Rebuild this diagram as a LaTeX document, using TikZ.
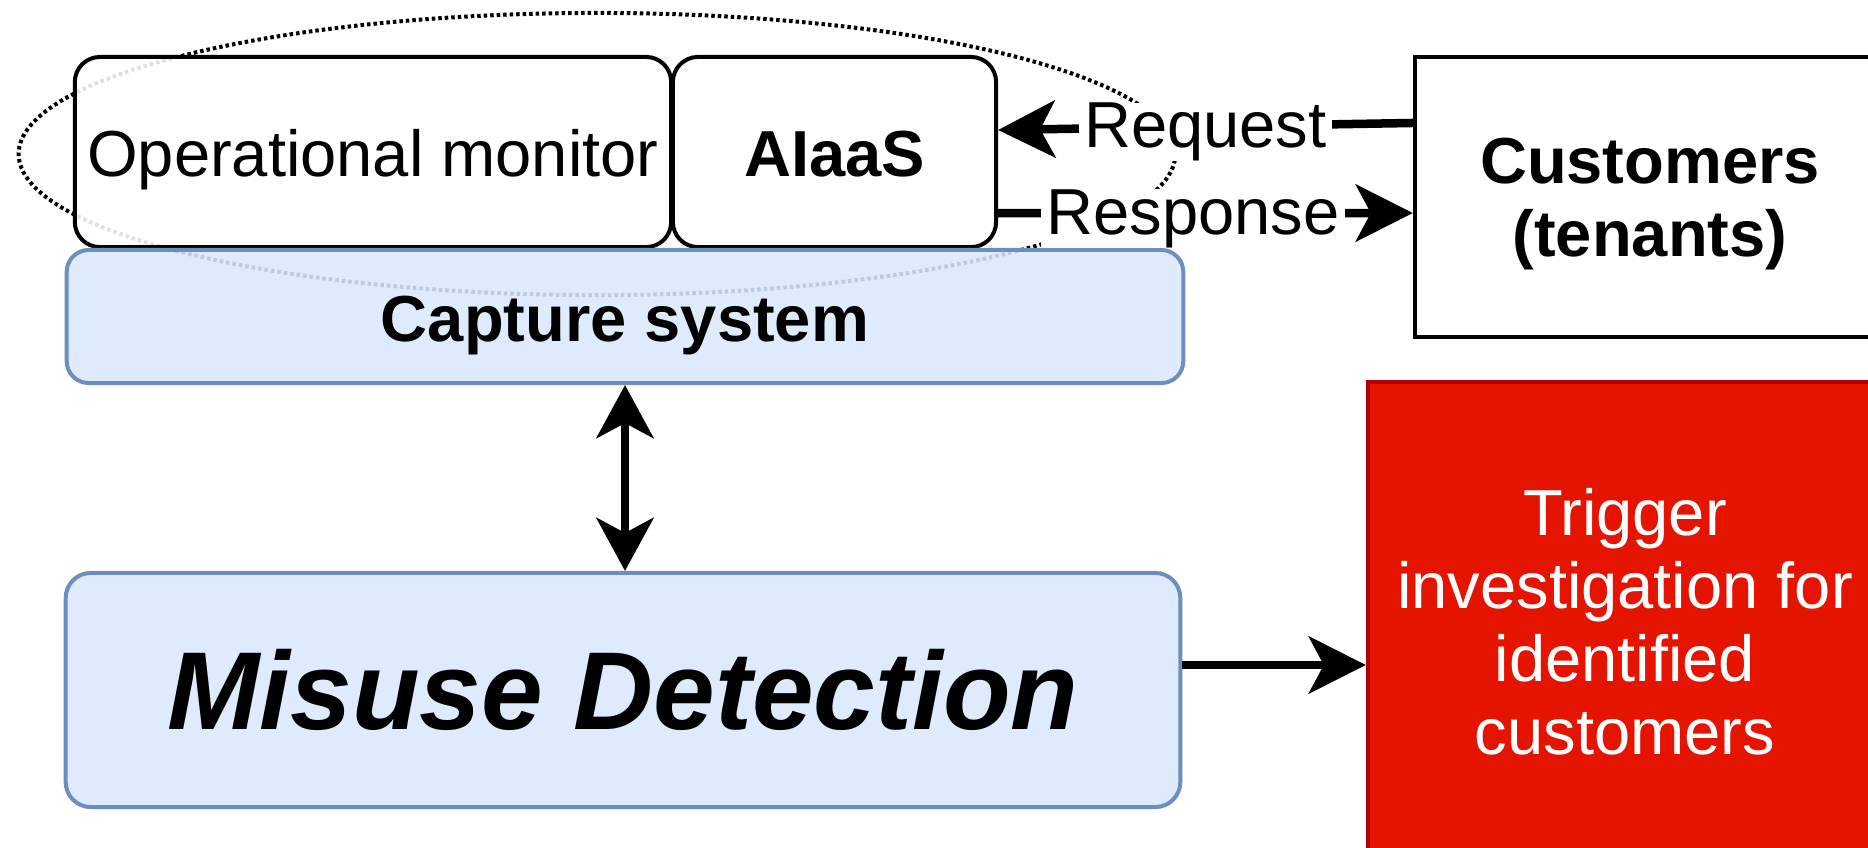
\documentclass[tikz,border=0pt]{standalone}
\usepackage{fontspec}
\setmainfont{Liberation Sans}
\usetikzlibrary{arrows.meta}
\definecolor{boxblue}{HTML}{DAE8FC}
\definecolor{lineblue}{HTML}{6C8EBF}
\definecolor{alertred}{HTML}{E51400}
\definecolor{alertline}{HTML}{B20000}
\newcommand{\boxfont}{\fontsize{18.5}{20.8}\selectfont}
\tikzset{
  lowtext/.style={text height=18pt, text depth=4pt},
  part/.style={draw, fill=white, line width=0.04cm, rounded corners=0.25cm, inner sep=0pt,
    fill opacity=0.88, text opacity=1, font=\boxfont, lowtext},
  layer/.style={draw=lineblue, fill=boxblue, line width=0.04cm, rounded corners=0.22cm, inner sep=0pt,
    fill opacity=0.88, text opacity=1},
  flow/.style={line width=0.085cm, -{Stealth[length=5.7mm, width=5.7mm, inset=1.5mm]}},
  edgetext/.style={fill=white, inner xsep=1.5pt, inner ysep=0pt, font=\boxfont, anchor=base, yshift=-6pt},
}

\begin{document}
\begin{tikzpicture}[x=0.01cm, y=-0.01cm]
            \useasboundingbox (0,0) rectangle (1868,847);
            \clip (0,0) rectangle (1868,847);

            \draw[line width=0.04cm, dash pattern=on 0.035cm off 0.03cm] (597,154) ellipse [x radius=5.78cm, y radius=1.41cm];

            \node[part, minimum width=5.96cm, minimum height=1.9cm] (opmon) at (373,152) {Operational monitor};
            \node[part, minimum width=3.23cm, minimum height=1.9cm, font=\boxfont\bfseries] (aiaas) at (834.5,152) {AIaaS};
            \node[layer, lowtext, minimum width=11.16cm, minimum height=1.33cm, font=\boxfont\bfseries] (capture) at (625,316.5) {Capture system};
            \node[layer, rounded corners=0.25cm, minimum width=11.14cm, minimum height=2.34cm,
                  font=\fontsize{31.5}{36}\selectfont\bfseries\itshape] (misuse) at (623,690) {Misuse Detection};
            \node[draw, line width=0.04cm, minimum width=4.7cm, minimum height=2.8cm, align=center, text depth=0pt,
                  font=\boxfont\bfseries] (cust) at (1650,197) {Customers\\(tenants)};
            \node[draw=alertline, fill=alertred, line width=0.04cm, minimum width=5.14cm, minimum height=4.8cm,
                  text=white, align=center, font=\boxfont] (alert) at (1625,622) {Trigger\\investigation for\\identified\\customers};

            \draw[flow] ([yshift=7.4mm]cust.west) -- node[edgetext] {Request} ([yshift=2.2mm]aiaas.east);
            \draw[flow] ([yshift=-6.1mm]aiaas.east) -- node[edgetext, pos=0.47] {Response} ([yshift=-1.6mm]cust.west);
            \draw[line width=0.085cm, {Stealth[length=5.3mm, width=5.7mm, inset=1.5mm]}-{Stealth[length=5.3mm, width=5.7mm, inset=1.5mm]}]
                (capture.south) -- (capture.south |- misuse.north);
            \coordinate (handoff) at ([yshift=2.5mm]misuse.east);
            \draw[flow] (handoff) -- (handoff -| alert.west);
        \end{tikzpicture}
\end{document}
